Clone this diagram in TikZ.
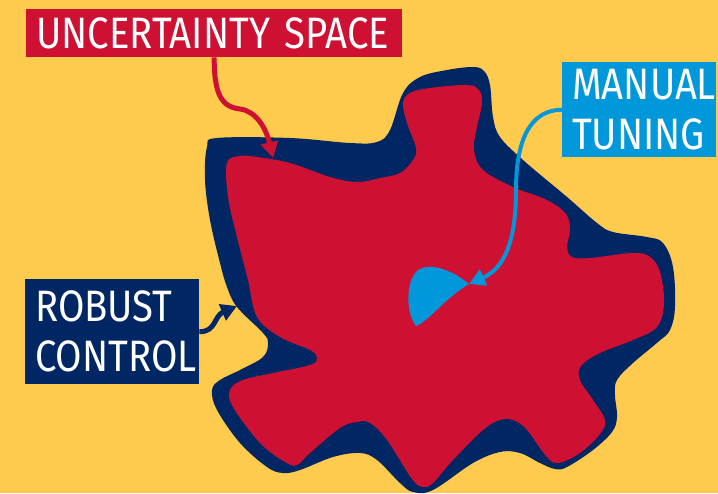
\documentclass[tikz,border=0pt]{standalone}
\usepackage{fontspec}
\usetikzlibrary{arrows.meta}
\newfontfamily\tagfont{Fira Sans}[FakeStretch=0.87]
\definecolor{spaceyellow}{HTML}{FFCB4E}
\definecolor{spacered}{HTML}{CE1133}
\definecolor{spacenavy}{HTML}{002664}
\definecolor{spaceblue}{HTML}{0098DA}
\tikzset{
    tag box/.style={
        anchor=north west,
        inner xsep=10pt,
        inner ysep=0pt,
        align=left,
        text=white,
        font=\tagfont\fontsize{44}{50}\selectfont
    },
    pointer/.style={
        line width=5pt,
        -{Triangle[length=16pt, width=17pt]}
    },
    blob/.style={
        smooth cycle,
        tension=0.6
    }
}

\begin{document}
\begin{tikzpicture}[x=1pt, y=-1pt]

    % Canvas.
    \useasboundingbox (0,0) rectangle (718,493);
    \clip (0,0) rectangle (718,493);
    \fill[spaceyellow] (0,0) rectangle (718,493);

    % -------------------------------------------------------------------------
    % Robust control region (outer) and uncertainty space (inner).
    % -------------------------------------------------------------------------
    \fill[spacenavy] plot[blob] coordinates {
        (207,147) (217,138) (290,138) (350,143) (377,142) (390,130)
        (403,93) (420,77) (447,70) (473,67) (484,71) (490,85)
        (493,117) (500,137) (523,160) (567,197) (597,223) (613,232)
        (647,237) (663,243) (673,267) (675,307) (670,330) (658,342)
        (633,363) (617,380) (615,395) (617,417) (612,432) (593,450)
        (567,467) (555,469) (540,463) (520,453) (500,452) (473,463)
        (433,490) (413,492) (400,483) (377,460) (360,453) (333,457)
        (300,470) (283,473) (267,467) (240,443) (217,410) (212,390)
        (220,380) (240,370) (263,357) (268,343) (263,333) (237,307)
        (227,287) (220,263) (210,220) (205,180)
    };
    \fill[spacered] plot[blob] coordinates {
        (227,163) (240,156) (257,157) (290,163) (330,177) (357,182)
        (380,178) (400,173) (413,160) (416,148) (407,123) (403,103)
        (410,93) (430,88) (467,85) (479,90) (482,103) (477,127)
        (474,150) (483,170) (513,187) (547,200) (566,214) (570,230)
        (567,247) (572,257) (590,258) (633,253) (650,257) (660,272)
        (664,303) (657,327) (633,340) (600,353) (581,366) (580,380)
        (593,400) (605,420) (600,434) (580,453) (558,463) (546,456)
        (527,430) (513,420) (500,420) (483,430) (453,460) (433,483)
        (423,487) (412,479) (387,440) (370,423) (357,422) (340,428)
        (310,453) (297,465) (285,462) (260,443) (233,407) (230,390)
        (243,380) (273,373) (310,365) (317,358) (310,350) (280,337)
        (257,317) (248,280) (237,237) (228,197)
    };

    % Manual tuning spot.
    \fill[spaceblue] (469,284) .. controls (452,270) and (430,262) .. (418,270)
        .. controls (406,280) and (405,312) .. (416,326)
        .. controls (428,322) and (445,298) .. cycle;

    % -------------------------------------------------------------------------
    % Tags and pointers.
    % -------------------------------------------------------------------------
    \node[tag box, fill=spacered, text width=356pt, minimum height=48pt]
        (uncertainty) at (26,9) {UNCERTAINTY SPACE};
    \node[tag box, fill=spaceblue, text width=134pt, minimum height=95pt]
        (tuning) at (562,62) {MANUAL\\TUNING};
    \node[tag box, fill=spacenavy, text width=154pt, minimum height=105pt]
        (robust) at (25,279) {ROBUST\\CONTROL};

    \coordinate (uncertaintytip) at (273,158);
    \coordinate (tuningtip) at (469,284);
    \coordinate (robusttip) at (237,306);

    \draw[pointer, spacered] (uncertainty.south)
        .. controls (214,95) and (222,107) .. (240,109)
        .. controls (256,111) and (266,128) .. (uncertaintytip);
    \draw[pointer, line width=4pt, spaceblue] (tuning.west)
        .. controls (530,110) and (516,140) .. (516,190)
        .. controls (516,250) and (500,270) .. (tuningtip);
    \draw[pointer, spacenavy] (robust.east)
        .. controls (216,332) and (214,316) .. (robusttip);

\end{tikzpicture}
\end{document}
